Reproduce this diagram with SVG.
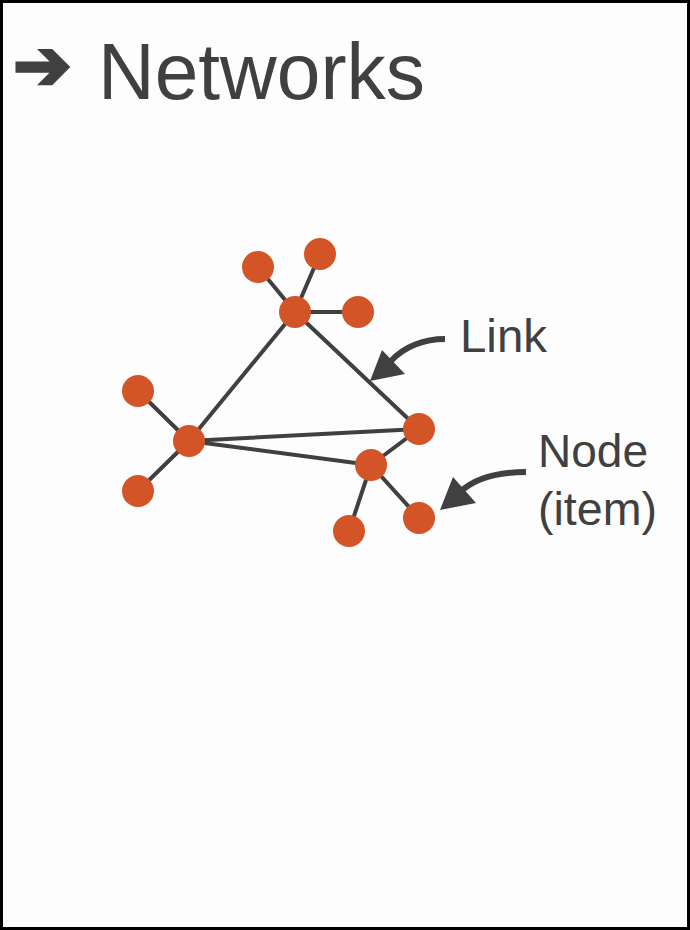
<svg xmlns="http://www.w3.org/2000/svg" width="690" height="930" viewBox="0 0 690 930">
<style>
.t{font-family:"Liberation Sans",Arial,sans-serif;fill:#404040}
.e{stroke:#404040;stroke-width:4;fill:none;stroke-linecap:round}
.n{fill:#d35527}
.c{stroke:#404040;stroke-width:6;fill:none}
.h{fill:#404040}
</style>
<rect x="0" y="0" width="690" height="930" fill="#fdfdfd"/>
<rect x="1.5" y="1.5" width="687" height="927" fill="none" stroke="#000" stroke-width="3"/>
<g id="title">
<text x="13" y="89" style="font-family:'DejaVu Sans',sans-serif;fill:#404040;stroke:#404040;stroke-width:3;stroke-linejoin:miter" font-size="70">➔</text>
<text class="t" x="98" y="99" font-size="80" textLength="327" lengthAdjust="spacingAndGlyphs">Networks</text>
</g>
<g id="edges">
<line class="e" x1="295" y1="312" x2="258" y2="267"/>
<line class="e" x1="295" y1="312" x2="320" y2="254"/>
<line class="e" x1="295" y1="312" x2="358" y2="312"/>
<line class="e" x1="295" y1="312" x2="189" y2="441"/>
<line class="e" x1="295" y1="312" x2="419" y2="429"/>
<line class="e" x1="189" y1="441" x2="138" y2="391"/>
<line class="e" x1="189" y1="441" x2="138" y2="491"/>
<line class="e" x1="189" y1="441" x2="419" y2="429"/>
<line class="e" x1="189" y1="441" x2="371" y2="465"/>
<line class="e" x1="371" y1="465" x2="419" y2="429"/>
<line class="e" x1="371" y1="465" x2="349" y2="531"/>
<line class="e" x1="371" y1="465" x2="419" y2="518"/>
</g>
<g id="nodes">
<circle id="n1" class="n" cx="258" cy="267" r="16"/>
<circle id="n2" class="n" cx="320" cy="254" r="16"/>
<circle id="n3" class="n" cx="295" cy="312" r="16"/>
<circle id="n4" class="n" cx="358" cy="312" r="16"/>
<circle id="n5" class="n" cx="138" cy="391" r="16"/>
<circle id="n6" class="n" cx="189" cy="441" r="16"/>
<circle id="n7" class="n" cx="138" cy="491" r="16"/>
<circle id="n8" class="n" cx="419" cy="429" r="16"/>
<circle id="n9" class="n" cx="371" cy="465" r="16"/>
<circle id="n10" class="n" cx="349" cy="531" r="16"/>
<circle id="n11" class="n" cx="419" cy="518" r="16"/>
</g>
<g id="link-label">
<path class="c" d="M445,339 C425,339 404,346 390,362"/>
<polygon class="h" points="370,381 382,350 405,374"/>
<text class="t" x="460" y="352" font-size="46" textLength="87" lengthAdjust="spacingAndGlyphs">Link</text>
</g>
<g id="node-label">
<path class="c" d="M526,472 C500,472 475,478 460,492"/>
<polygon class="h" points="440,510 453,477 476,503"/>
<text class="t" x="538" y="467" font-size="46" textLength="110" lengthAdjust="spacingAndGlyphs">Node</text>
<text class="t" x="538" y="525" font-size="46" textLength="119" lengthAdjust="spacingAndGlyphs">(item)</text>
</g>
</svg>
